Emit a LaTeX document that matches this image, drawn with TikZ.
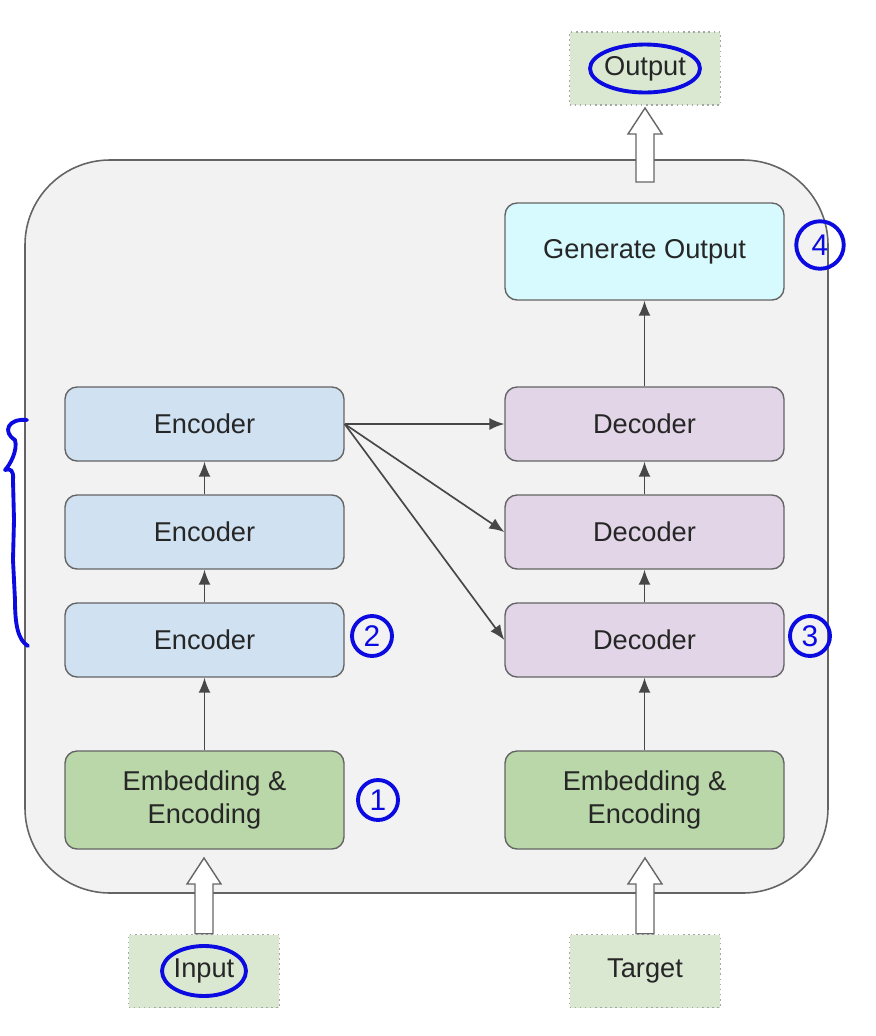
\documentclass[tikz,border=0pt]{standalone}
\usepackage{fontspec}
\setmainfont{Liberation Sans}
\usetikzlibrary{arrows.meta, calc}

\definecolor{encfill}{RGB}{208,226,242}
\definecolor{decfill}{RGB}{225,213,231}
\definecolor{embfill}{RGB}{185,215,168}
\definecolor{genfill}{RGB}{215,250,255}
\definecolor{iofill}{RGB}{218,232,210}
\definecolor{framefill}{RGB}{242,242,242}
\definecolor{edgegray}{RGB}{100,100,100}
\definecolor{ink}{RGB}{10,10,225}

\tikzset{
  block/.style={draw=edgegray, line width=0.8pt, rounded corners=0.24cm,
    minimum width=5.58cm, minimum height=1.48cm, align=center,
    text=black!85, font=\fontsize{15.5}{18.8}\selectfont},
  enc/.style={block, fill=encfill},
  dec/.style={block, fill=decfill},
  emb/.style={block, fill=embfill, minimum height=1.96cm, text depth=0.1cm},
  iobox/.style={draw=black!35, dotted, line width=0.9pt, fill=iofill,
    minimum width=3.02cm, minimum height=1.46cm,
    text=black!85, font=\fontsize{15.5}{18.8}\selectfont},
  link/.style={draw=black!72, line width=0.95pt, -{Latex[length=0.3cm, width=0.24cm]}},
  hollow/.style={draw=black!60, line width=0.8pt, fill=white},
  hand/.style={draw=ink, line width=2.2pt, line cap=round, line join=round},
  num/.style={hand, circle, inner sep=0pt, text=ink, font=\fontsize{17}{17}\selectfont}
}

% hollow arrow: #1 base, #2 tip
\newcommand{\hollowup}[2]{%
  \draw[hollow] ($(#1)+(-9,0)$) -- ($(#2)+(-9,26)$) -- ($(#2)+(-17,26)$)
    -- (#2) -- ($(#2)+(17,26)$) -- ($(#2)+(9,26)$) -- ($(#1)+(9,0)$) -- cycle;}

\begin{document}
\begin{tikzpicture}[x=0.02cm, y=-0.02cm]
  \useasboundingbox (0,0) rectangle (876,1036);
  % Frame
  \draw[fill=framefill, draw=edgegray, line width=0.9pt, rounded corners=1.7cm]
    (25,160) rectangle (828,893);
  % Encoder side
  \node[emb] (embL) at (204.5,800) {Embedding \&\\Encoding};
  \node[enc] (enc3) at (204.5,640) {Encoder};
  \node[enc] (enc2) at (204.5,532) {Encoder};
  \node[enc] (enc1) at (204.5,424) {Encoder};
  % Decoder side
  \node[emb] (embR) at (644.5,800) {Embedding \&\\Encoding};
  \node[dec] (dec3) at (644.5,640) {Decoder};
  \node[dec] (dec2) at (644.5,532) {Decoder};
  \node[dec] (dec1) at (644.5,424) {Decoder};
  \node[block, fill=genfill, minimum height=1.94cm] (gen) at (644.5,251.5) {Generate Output};
  % Inputs and output
  \node[iobox] (inp) at (204,971) {Input};
  \node[iobox] (tgt) at (645,971) {Target};
  \node[iobox] (out) at (645,68.5) {Output};
  % Stacks
  \draw[link] (embL) -- (enc3);
  \draw[link] (enc3) -- (enc2);
  \draw[link] (enc2) -- (enc1);
  \draw[link] (embR) -- (dec3);
  \draw[link] (dec3) -- (dec2);
  \draw[link] (dec2) -- (dec1);
  \draw[link] (dec1) -- (gen);
  % Encoder to decoders
  \draw[link] (enc1.east) -- (dec1.west);
  \draw[link] (enc1.east) -- (dec2.west);
  \draw[link] (enc1.east) -- (dec3.west);
  % Hollow arrows
  \coordinate (inTip) at (204,858);
  \coordinate (tgtTip) at (645,858);
  \coordinate (outBase) at (645,182);
  \coordinate (outTip) at (645,108);
  \hollowup{inp.north}{inTip}
  \hollowup{tgt.north}{tgtTip}
  \hollowup{outBase}{outTip}
  % Hand notes
  \draw[hand] (inp.center) ellipse [x radius=0.84cm, y radius=0.5cm];
  \draw[hand] (out.center) ellipse [x radius=1.1cm, y radius=0.48cm];
  \node[num, minimum size=0.8cm] (n1) at (378,800) {1};
  \node[num, minimum size=0.8cm] (n2) at (372,636) {2};
  \node[num, minimum size=0.8cm] (n3) at (810,636) {3};
  \node[num, minimum size=0.95cm] (n4) at (820,245) {4};
  \draw[hand] (27,420) .. controls (8,418) and (2,432) .. (15,440)
    .. controls (18,450) and (10,465) .. (5,470)
    .. controls (10,468) and (14,470) .. (13,480)
    -- (14,520) -- (13,560) -- (15,600)
    .. controls (15,625) and (18,640) .. (28,646);
\end{tikzpicture}
\end{document}
